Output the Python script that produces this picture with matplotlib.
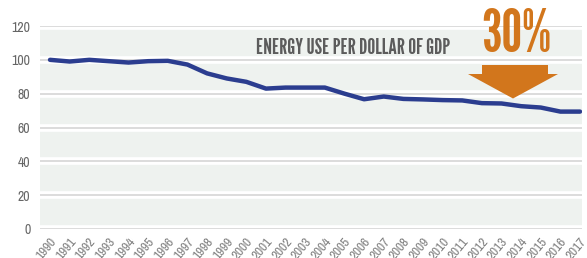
import matplotlib
matplotlib.use("Agg")
import matplotlib.pyplot as plt
from matplotlib import font_manager as fm
from matplotlib.patches import Polygon

years = list(range(1990, 2018))
energy_per_gdp = [100, 99, 100, 99.2, 98.4, 99.2, 99.4, 97.2, 92, 89, 87, 83,
                  83.6, 83.6, 83.6, 80, 76.7, 78.3, 76.9, 76.6, 76.2, 76, 74.4,
                  74.2, 72.6, 71.8, 69.4, 69.4]
y_ticks = [0, 20, 40, 60, 80, 100, 120]
title_text = "ENERGY USE PER DOLLAR OF GDP"
pct_text = "30%"

names = {f.name for f in fm.fontManager.ttflist}


def pick(*cands):
    for c in cands:
        if c in names:
            return c
    return "DejaVu Sans"


gothic = pick("League Gothic", "Pathway Gothic One", "Antonio", "Oswald", "Barlow Condensed")
narrow = pick("Archivo Narrow", "Roboto Condensed", "Barlow Condensed", "Liberation Sans Narrow")

fig = plt.figure(figsize=(5.87, 2.58), dpi=100)
ax = fig.add_axes([40/587, 29/258, 542/587, 203/258])
ax.set_xlim(1989.49, 2017.1)
ax.set_ylim(0, 120)

# background bands with white strips around grid lines
ax.axhspan(0, 120, color="#eef2ef", zorder=0, lw=0)
for t in y_ticks:
    ax.axhline(t, color="white", lw=5.5, zorder=1)
    ax.axhline(t, color="#d2d2d2", lw=1.1, zorder=2)

ax.plot(years, energy_per_gdp, color="#2b3d8f", lw=3.2, zorder=5,
        solid_capstyle="round", solid_joinstyle="round")

for s in ax.spines.values():
    s.set_visible(False)
ax.set_yticks(y_ticks)
ax.set_yticklabels([str(t) for t in y_ticks], family=narrow, fontsize=10, color="#666666")
ax.set_xticks(years)
ax.set_xticklabels([str(y) for y in years], rotation=50, ha="right",
                   rotation_mode="anchor", family=narrow, fontsize=9.5, color="#808080")
ax.tick_params(axis="both", length=0)
ax.tick_params(axis="y", pad=7)
ax.tick_params(axis="x", pad=5)

# title and annotation
fig.text(256/587, 1 - 48/258, title_text, ha="left", va="center",
         family=gothic, fontsize=16, color="#5c5c5c")
fig.text(516/587, 1 - 36/258, pct_text, ha="center", va="center",
         family=gothic, fontsize=42, color="#d2761c")

arrow = [(482, 65), (548, 65), (548, 74), (558, 74), (513, 98.5), (468, 74), (482, 74)]
arrow = [(x/587, 1 - y/258) for x, y in arrow]
fig.patches.append(Polygon(arrow, closed=True, transform=fig.transFigure,
                           facecolor="#d2761c", edgecolor="none", zorder=10))

fig.savefig("out.png", dpi=100)
